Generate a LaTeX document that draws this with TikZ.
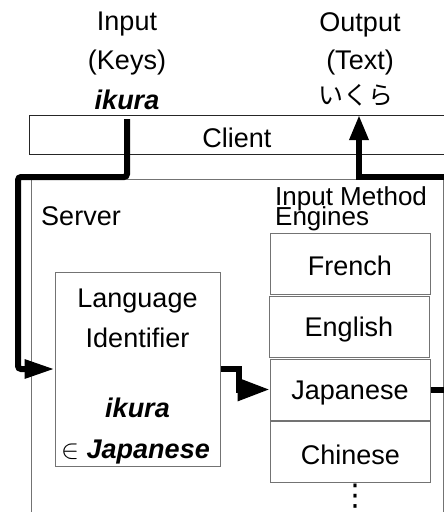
\RequirePackage{fix-cm}
\documentclass[tikz,border=0pt]{standalone}
\usepackage{fontspec}
\setmainfont{Liberation Sans}
\newfontfamily\jpfont{Noto Sans CJK JP}
\newfontfamily\symfont{DejaVu Sans}
\usetikzlibrary{positioning,arrows.meta}

\begin{document}
\begin{tikzpicture}[x=1pt,y=-1pt,font=\fontsize{27}{32}\selectfont,
  box/.style={draw=black!55,line width=1pt,inner sep=0pt},
  engine/.style={box,minimum width=160pt,minimum height=61pt,text height=25pt},
  flow/.style={line width=6pt,-{Triangle[length=30pt,width=18pt]}}]
\useasboundingbox (0,0) rectangle (444,512);
\node[box,minimum width=412pt,minimum height=361pt] (server) at (237,359.5) {};
\node[anchor=base] (srvlabel) at (81,225) {Server};
\node[box,draw=black!85,minimum width=416pt,minimum height=39pt,text height=27pt] (client) at (237,134.5) {Client};
\node[anchor=base] (inp) at (127,30) {Input};
\node[anchor=base] (keys) at (127,69) {(Keys)};
\node[anchor=base] (typed) at (127,109) {\textbf{\textit{ikura}}};
\node[anchor=base] (outp) at (360,31) {Output};
\node[anchor=base] (text) at (360,69) {(Text)};
\node[anchor=base] (kana) at (356,104) {\fontsize{25}{28}\selectfont\jpfont いくら};
\node[anchor=base west,align=left,inner sep=0pt,font=\fontsize{26}{20}\selectfont] (imelabel) at (275,225) {Input Method\\[-6pt]Engines};
\node[engine] (french) at (350,263.5) {French};
\node[engine] (english) at (349,327) {English};
\node[engine] (japanese) at (350,389.5) {Japanese};
\node[engine] (chinese) at (350.5,452) {Chinese};
\node[anchor=base,inner sep=0pt,font=\fontsize{30}{30}\selectfont\symfont] (more) at (355,505) {⋮};
\node[box,minimum width=165pt,minimum height=194pt] (langid) at (137.5,369) {};
\node[anchor=base] (lang) at (137.5,307) {Language};
\node[anchor=base] (ident) at (137.5,347) {Identifier};
\node[anchor=base] (word) at (137.5,417) {\textbf{\textit{ikura}}};
\node[anchor=base] (member) at (135.5,458) {$\in$ \textbf{\textit{Japanese}}};
\coordinate (keyin) at (127,119);
\coordinate (txtin) at (450,177);
\coordinate (txtout) at (359,115);
\coordinate (jout) at (450,389.5);
\draw[flow,rounded corners=3pt] (keyin) |- (18,177) |- (langid.west);
\draw[flow,-{Triangle[length=25pt,width=18pt]}] (txtin) -| (txtout);
\draw[flow,-{Triangle[length=32pt,width=22pt]}] (langid.east) -- ++(18,0) |- (japanese.west);
\draw[line width=6pt] (japanese.east) -- (jout);
\end{tikzpicture}
\end{document}
